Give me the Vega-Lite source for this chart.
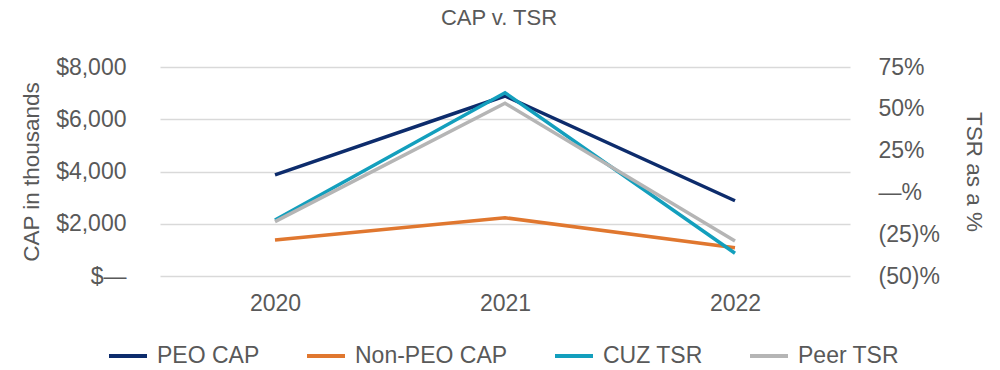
{
  "$schema": "https://vega.github.io/schema/vega-lite/v6.json",
  "width": 690,
  "height": 209,
  "autosize": {"type": "none"},
  "padding": {"left": 160, "top": 67, "right": 150, "bottom": 94},
  "background": "white",
  "title": {"text": "CAP v. TSR", "fontSize": 22, "font": "Liberation Sans", "fontWeight": "normal", "color": "#595959", "anchor": "middle", "offset": 26, "dx": -6, "frame": "group"},
  "data": {"values": [
    {"year": "2020", "series": "PEO CAP", "value": 3870},
    {"year": "2021", "series": "PEO CAP", "value": 6890},
    {"year": "2022", "series": "PEO CAP", "value": 2880},
    {"year": "2020", "series": "Non-PEO CAP", "value": 1380},
    {"year": "2021", "series": "Non-PEO CAP", "value": 2230},
    {"year": "2022", "series": "Non-PEO CAP", "value": 1080},
    {"year": "2020", "series": "CUZ TSR", "value": -16.5},
    {"year": "2021", "series": "CUZ TSR", "value": 59.6},
    {"year": "2022", "series": "CUZ TSR", "value": -36.4},
    {"year": "2020", "series": "Peer TSR", "value": -17.5},
    {"year": "2021", "series": "Peer TSR", "value": 53.3},
    {"year": "2022", "series": "Peer TSR", "value": -29.1}
  ]},
  "encoding": {
    "x": {"field": "year", "type": "ordinal", "scale": {"type": "point", "padding": 0.5}, "axis": {"title": null, "labelAngle": 0, "labelPadding": 16, "grid": false}},
    "color": {"field": "series", "type": "nominal", "scale": {"domain": ["PEO CAP", "Non-PEO CAP", "CUZ TSR", "Peer TSR"], "range": ["#0D2C6C", "#E0772F", "#139FBD", "#B5B5B5"]}, "legend": {"title": null}}
  },
  "layer": [
    {
      "transform": [{"filter": "datum.series == 'PEO CAP' || datum.series == 'Non-PEO CAP'"}],
      "mark": {"type": "line", "strokeWidth": 3.5},
      "encoding": {
        "y": {"field": "value", "type": "quantitative", "scale": {"domain": [0, 8000], "nice": false, "zero": false},
          "axis": {"orient": "left", "values": [0, 2000, 4000, 6000, 8000], "labelExpr": "datum.value == 0 ? '$\u2014' : '$' + format(datum.value, ',')", "title": "CAP in thousands", "titlePadding": 12, "labelPadding": 34, "grid": true, "gridColor": "#D9D9D9", "gridWidth": 1.5}}
      }
    },
    {
      "transform": [{"filter": "datum.series == 'CUZ TSR' || datum.series == 'Peer TSR'"}],
      "mark": {"type": "line", "strokeWidth": 3.5},
      "encoding": {
        "y": {"field": "value", "type": "quantitative", "scale": {"domain": [-50, 75], "nice": false, "zero": false},
          "axis": {"orient": "right", "values": [-50, -25, 0, 25, 50, 75], "labelExpr": "datum.value == 0 ? '\u2014%' : (datum.value < 0 ? '(' + format(-datum.value, 'd') + ')%' : format(datum.value, 'd') + '%')", "title": "TSR as a %", "titlePadding": 22, "labelPadding": 28, "grid": false}}
      }
    }
  ],
  "resolve": {"scale": {"y": "independent"}},
  "config": {
    "view": {"stroke": null},
    "axis": {"domain": false, "ticks": false, "labelFont": "Liberation Sans", "labelFontSize": 23, "labelColor": "#595959", "titleFont": "Liberation Sans", "titleFontSize": 22.5, "titleFontWeight": "normal", "titleColor": "#595959"},
    "legend": {"orient": "none", "legendX": -53, "legendY": 268, "direction": "horizontal", "columns": 4, "symbolType": "stroke", "symbolSize": 1444, "symbolStrokeWidth": 4, "labelFont": "Liberation Sans", "labelFontSize": 23, "labelColor": "#595959", "columnPadding": 39, "labelOffset": 8}
  }
}
